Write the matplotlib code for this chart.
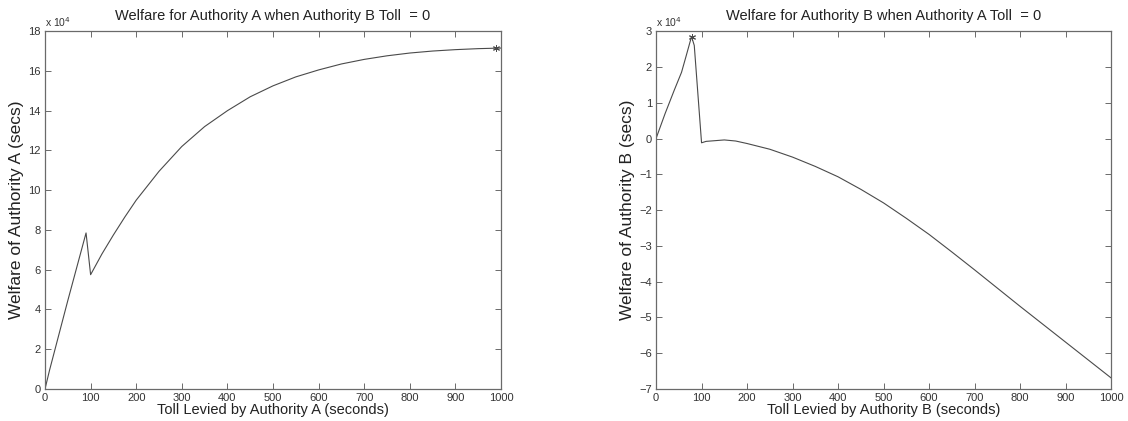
import numpy as np
import matplotlib.pyplot as plt

plt.rcParams['font.family'] = ['Liberation Sans', 'DejaVu Sans']

# welfare values in units of 1e4 seconds
toll_a = [0, 10, 30, 50, 70, 90, 100, 125, 150, 175, 200, 250, 300, 350, 400,
          450, 500, 550, 600, 650, 700, 750, 800, 850, 900, 950, 1000]
welfare_a = [0, 0.95, 2.7, 4.45, 6.15, 7.85, 5.75, 6.8, 7.75, 8.65, 9.5, 10.95,
             12.2, 13.2, 14.0, 14.7, 15.25, 15.7, 16.05, 16.35, 16.58, 16.76,
             16.9, 17.0, 17.07, 17.12, 17.15]
best_a = (990, 17.15)

toll_b = [0, 20, 40, 56, 66, 78, 84, 100, 110, 130, 150, 175, 200, 250, 300,
          350, 400, 450, 500, 550, 600, 650, 700, 750, 800, 850, 900, 950, 1000]
welfare_b = [0, 0.7, 1.35, 1.85, 2.3, 2.85, 2.6, -0.12, -0.08, -0.06, -0.04,
             -0.07, -0.14, -0.3, -0.52, -0.78, -1.07, -1.42, -1.8, -2.23, -2.68,
             -3.17, -3.67, -4.18, -4.69, -5.19, -5.69, -6.19, -6.69]
best_b = (78, 2.85)

LINE = '#4a4a4a'
AX = '#6a6a6a'
ASTERISK = (6, 2, 0)


def style(ax, ylim, yticks, title, xlabel, ylabel):
    ax.set_xlim(0, 1000)
    ax.set_ylim(*ylim)
    ax.set_xticks(np.arange(0, 1001, 100))
    ax.set_yticks(yticks)
    ax.tick_params(direction='in', top=True, right=True, length=4, width=0.7,
                   color=AX, labelsize=8, labelcolor='#333333', pad=3)
    for s in ax.spines.values():
        s.set_color(AX)
        s.set_linewidth(0.9)
    ax.set_title(title, fontsize=10.5, color='#222222', pad=8)
    ax.set_xlabel(xlabel, fontsize=10.5, color='#222222', labelpad=0)
    ax.set_ylabel(ylabel, fontsize=12.5, color='#222222', labelpad=3)
    ax.text(0.0, 1.005, r'x 10$^4$', transform=ax.transAxes, fontsize=7.5,
            ha='left', va='bottom', color='#333333')


fig = plt.figure(figsize=(11.28, 4.21), dpi=100)
ax1 = fig.add_axes([0.0399, 0.076, 0.4043, 0.850])
ax2 = fig.add_axes([0.5816, 0.076, 0.4034, 0.850])

ax1.plot(toll_a, welfare_a, color=LINE, lw=0.8)
ax1.plot(*best_a, marker=ASTERISK, color=LINE, ms=5, mew=0.7)
style(ax1, (0, 18), np.arange(0, 19, 2),
      'Welfare for Authority A when Authority B Toll  = 0',
      'Toll Levied by Authority A (seconds)', 'Welfare of Authority A (secs)')

ax2.plot(toll_b, welfare_b, color=LINE, lw=0.8)
ax2.plot(*best_b, marker=ASTERISK, color=LINE, ms=5, mew=0.7)
style(ax2, (-7, 3), np.arange(-7, 4, 1),
      'Welfare for Authority B when Authority A Toll  = 0',
      'Toll Levied by Authority B (seconds)', 'Welfare of Authority B (secs)')

fig.savefig('out.png', dpi=100)
